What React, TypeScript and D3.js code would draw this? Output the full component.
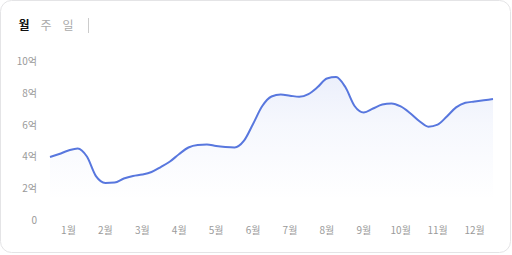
import React from "react";
import * as d3 from "d3";

const tabs = ["월", "주", "일"];
const monthLabels = ["1월", "2월", "3월", "4월", "5월", "6월", "7월", "8월", "9월", "10월", "11월", "12월"];
const yTicks = [0, 2, 4, 6, 8, 10];
const values = [
  3.96, 4.15, 4.37, 4.5, 3.99, 2.74, 2.33, 2.36, 2.61, 2.77, 2.86, 3.02,
  3.33, 3.68, 4.15, 4.56, 4.72, 4.75, 4.65, 4.59, 4.56, 4.97, 6.04, 7.17,
  7.77, 7.89, 7.82, 7.75, 7.92, 8.36, 8.9, 8.99, 8.36, 7.17, 6.76, 7.01,
  7.26, 7.33, 7.14, 6.73, 6.23, 5.87, 6.0, 6.51, 7.08, 7.37, 7.45, 7.53, 7.61,
];

const W = 512;
const H = 255;
const FONT = "'Noto Sans CJK KR', 'Noto Sans', sans-serif";

export default function App() {
  const n = values.length - 1;
  const x = d3.scaleLinear().domain([0, n]).range([50, 493]);
  const y = d3.scaleLinear().domain([0, 10]).range([220, 61]);
  const curve = d3.curveMonotoneX;
  const line = d3.line<number>().x((_, i) => x(i)).y((d) => y(d)).curve(curve);
  const area = d3.area<number>().x((_, i) => x(i)).y0(y(0)).y1((d) => y(d)).curve(curve);
  const monthPos = (i: number) => x((n / 24) * (2 * i + 1));

  return (
    <svg width={W} height={H} style={{ position: "absolute", left: 0, top: 0, fontFamily: FONT }}>
      <defs>
        <linearGradient id="areaGrad" gradientUnits="userSpaceOnUse" x1={0} y1={75} x2={0} y2={200}>
          <stop offset="0" stopColor="#5b7be0" stopOpacity={0.12} />
          <stop offset="0.4" stopColor="#5b7be0" stopOpacity={0.055} />
          <stop offset="1" stopColor="#5b7be0" stopOpacity={0} />
        </linearGradient>
      </defs>
      <rect x={0.5} y={0.5} width={W - 2} height={H - 3} rx={11} ry={11} fill="#fff" stroke="#e4e4e6" />
      {tabs.map((t, i) => (
        <text key={t} x={24 + i * 22} y={30} textAnchor="middle" fontSize={12}
          fontWeight={i === 0 ? 700 : 400} fill={i === 0 ? "#111" : "#aaa"}>{t}</text>
      ))}
      <line x1={88.5} x2={88.5} y1={18} y2={33} stroke="#ccc" />
      {yTicks.map((v) => (
        <text key={v} x={37} y={y(v) + 4} textAnchor="end" fontSize={10} fill="#9a9a9a">
          {v === 0 ? "0" : `${v}억`}
        </text>
      ))}
      {monthLabels.map((m, i) => (
        <text key={m} x={monthPos(i)} y={234} textAnchor="middle" fontSize={10} fill="#9a9a9a">{m}</text>
      ))}
      <path d={area(values) ?? ""} fill="url(#areaGrad)" />
      <path d={line(values) ?? ""} fill="none" stroke="#5877de" strokeWidth={2} />
    </svg>
  );
}
